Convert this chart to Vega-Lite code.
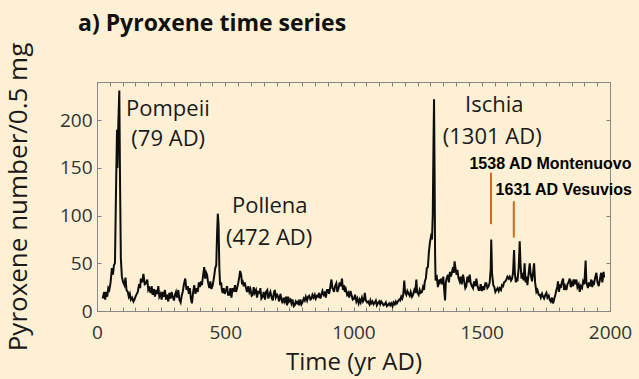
{
  "$schema": "https://vega.github.io/schema/vega-lite/v6.json",
  "width": 513,
  "height": 229,
  "autosize": {"type": "none"},
  "padding": {"left": 97, "top": 82, "right": 29, "bottom": 68},
  "background": "#fdf0d4",
  "config": {
    "view": {"stroke": "#8a8a8a", "strokeWidth": 1},
    "font": "Open Sans",
    "axis": {"domain": false, "grid": false, "tickColor": "#808080", "tickSize": -4, "tickWidth": 1, "labelFont": "Open Sans", "labelFontSize": 19, "labelColor": "#333333", "titleFont": "Open Sans", "titleFontWeight": "normal", "titleColor": "#1a1a1a"}
  },
  "title": {"text": "a) Pyroxene time series", "anchor": "start", "frame": "group", "dx": -19, "offset": 6, "fontSize": 23, "fontWeight": "bold", "color": "#111111", "font": "Open Sans"},
  "datasets": {
    "series": [
      {"t":22,"v":13},{"t":28,"v":20},{"t":32,"v":12},{"t":35,"v":20},{"t":40,"v":15},{"t":44,"v":24},{"t":48,"v":22},{"t":53,"v":30},{"t":58,"v":45},{"t":62,"v":38},{"t":66,"v":48},{"t":70,"v":50},{"t":74,"v":124},{"t":78,"v":190},{"t":80,"v":150},{"t":83,"v":195},{"t":87,"v":231},{"t":90,"v":130},{"t":93,"v":55},{"t":97,"v":36},
      {"t":102,"v":30},{"t":107,"v":27},{"t":111,"v":35},{"t":115,"v":22},{"t":120,"v":20},{"t":124,"v":15},{"t":128,"v":18},{"t":132,"v":12},{"t":137,"v":14},{"t":142,"v":10},{"t":146,"v":12},{"t":150,"v":15},{"t":155,"v":18},{"t":159,"v":20},{"t":164,"v":28},{"t":168,"v":24},{"t":171,"v":34},{"t":176,"v":30},{"t":181,"v":39},{"t":186,"v":28},{"t":191,"v":29},{"t":196,"v":33},
      {"t":200,"v":22},{"t":204,"v":24},{"t":209,"v":19},{"t":213,"v":26},{"t":217,"v":17},{"t":222,"v":23},{"t":226,"v":15},{"t":230,"v":22},{"t":235,"v":18},{"t":239,"v":26},{"t":243,"v":15},{"t":248,"v":18},{"t":252,"v":12},{"t":256,"v":20},{"t":260,"v":15},{"t":265,"v":22},{"t":269,"v":12},{"t":273,"v":17},{"t":278,"v":10},{"t":282,"v":19},{"t":287,"v":13},{"t":291,"v":20},{"t":295,"v":15},
      {"t":300,"v":11},{"t":304,"v":17},{"t":308,"v":20},{"t":312,"v":14},{"t":317,"v":22},{"t":321,"v":12},{"t":326,"v":9},{"t":330,"v":16},{"t":334,"v":20},{"t":339,"v":28},{"t":344,"v":34},{"t":349,"v":22},{"t":354,"v":26},{"t":358,"v":18},{"t":362,"v":24},{"t":366,"v":13},{"t":370,"v":8},{"t":375,"v":20},{"t":379,"v":27},{"t":384,"v":18},{"t":388,"v":24},{"t":393,"v":20},{"t":397,"v":30},
      {"t":401,"v":25},{"t":405,"v":31},{"t":409,"v":27},{"t":413,"v":36},{"t":418,"v":46},{"t":422,"v":34},{"t":426,"v":40},{"t":429,"v":38},{"t":433,"v":30},{"t":438,"v":24},{"t":442,"v":31},{"t":446,"v":23},{"t":451,"v":27},{"t":456,"v":35},{"t":461,"v":45},{"t":465,"v":48},{"t":468,"v":80},{"t":471,"v":102},{"t":474,"v":90},{"t":477,"v":45},{"t":480,"v":27},{"t":484,"v":30},{"t":487,"v":22},{"t":490,"v":19},{"t":494,"v":24},{"t":498,"v":18},
      {"t":503,"v":22},{"t":507,"v":26},{"t":511,"v":17},{"t":516,"v":17},{"t":520,"v":24},{"t":524,"v":14},{"t":529,"v":24},{"t":533,"v":20},{"t":538,"v":27},{"t":542,"v":20},{"t":547,"v":25},{"t":551,"v":30},{"t":555,"v":36},{"t":558,"v":42},{"t":562,"v":38},{"t":565,"v":30},{"t":568,"v":31},{"t":572,"v":26},{"t":576,"v":30},{"t":581,"v":24},{"t":585,"v":20},{"t":590,"v":26},{"t":594,"v":20},{"t":598,"v":23},
      {"t":603,"v":16},{"t":607,"v":17},{"t":611,"v":25},{"t":615,"v":19},{"t":620,"v":22},{"t":624,"v":14},{"t":628,"v":20},{"t":633,"v":19},{"t":637,"v":24},{"t":641,"v":13},{"t":646,"v":15},{"t":650,"v":20},{"t":655,"v":12},{"t":659,"v":20},{"t":664,"v":22},{"t":668,"v":13},{"t":672,"v":17},{"t":676,"v":20},{"t":680,"v":15},{"t":685,"v":11},{"t":689,"v":18},{"t":693,"v":22},{"t":697,"v":14},
      {"t":702,"v":17},{"t":706,"v":15},{"t":710,"v":10},{"t":715,"v":18},{"t":719,"v":13},{"t":723,"v":8},{"t":728,"v":14},{"t":732,"v":10},{"t":737,"v":15},{"t":741,"v":6},{"t":745,"v":15},{"t":749,"v":10},{"t":754,"v":12},{"t":758,"v":8},{"t":762,"v":12},{"t":767,"v":5},{"t":771,"v":6},{"t":775,"v":10},{"t":780,"v":8},{"t":784,"v":10},{"t":788,"v":6},{"t":793,"v":12},{"t":797,"v":7},
      {"t":801,"v":9},{"t":806,"v":13},{"t":810,"v":11},{"t":814,"v":15},{"t":819,"v":11},{"t":823,"v":15},{"t":827,"v":16},{"t":832,"v":12},{"t":836,"v":13},{"t":840,"v":17},{"t":845,"v":14},{"t":849,"v":17},{"t":853,"v":13},{"t":858,"v":16},{"t":862,"v":15},{"t":866,"v":19},{"t":871,"v":13},{"t":875,"v":17},{"t":879,"v":21},{"t":884,"v":17},{"t":888,"v":19},{"t":892,"v":14},{"t":897,"v":22},
      {"t":901,"v":22},{"t":905,"v":18},{"t":910,"v":26},{"t":914,"v":33},{"t":918,"v":24},{"t":922,"v":22},{"t":924,"v":20},{"t":928,"v":26},{"t":933,"v":29},{"t":937,"v":20},{"t":942,"v":24},{"t":946,"v":30},{"t":951,"v":26},{"t":955,"v":34},{"t":959,"v":22},{"t":963,"v":27},{"t":966,"v":20},{"t":970,"v":23},{"t":975,"v":17},{"t":979,"v":19},{"t":983,"v":14},{"t":988,"v":21},{"t":992,"v":17},{"t":997,"v":12},
      {"t":1002,"v":13},{"t":1006,"v":17},{"t":1011,"v":10},{"t":1015,"v":13},{"t":1020,"v":8},{"t":1024,"v":12},{"t":1028,"v":9},{"t":1033,"v":14},{"t":1037,"v":10},{"t":1041,"v":12},{"t":1044,"v":19},{"t":1048,"v":11},{"t":1053,"v":9},{"t":1057,"v":10},{"t":1062,"v":7},{"t":1066,"v":11},{"t":1069,"v":8},{"t":1074,"v":10},{"t":1078,"v":7},{"t":1083,"v":9},{"t":1087,"v":11},{"t":1091,"v":6},{"t":1095,"v":8},
      {"t":1100,"v":10},{"t":1104,"v":7},{"t":1108,"v":10},{"t":1113,"v":8},{"t":1117,"v":6},{"t":1122,"v":7},{"t":1126,"v":9},{"t":1130,"v":5},{"t":1134,"v":6},{"t":1139,"v":8},{"t":1143,"v":6},{"t":1147,"v":8},{"t":1152,"v":5},{"t":1156,"v":9},{"t":1161,"v":7},{"t":1165,"v":10},{"t":1169,"v":8},{"t":1173,"v":10},{"t":1178,"v":12},{"t":1182,"v":11},{"t":1186,"v":15},{"t":1190,"v":13},{"t":1194,"v":17},{"t":1198,"v":32},
      {"t":1201,"v":20},{"t":1206,"v":17},{"t":1210,"v":21},{"t":1215,"v":18},{"t":1219,"v":16},{"t":1223,"v":20},{"t":1228,"v":15},{"t":1232,"v":17},{"t":1237,"v":22},{"t":1241,"v":19},{"t":1245,"v":33},{"t":1248,"v":20},{"t":1254,"v":17},{"t":1258,"v":22},{"t":1262,"v":19},{"t":1267,"v":20},{"t":1271,"v":25},{"t":1275,"v":22},{"t":1278,"v":31},{"t":1282,"v":34},{"t":1286,"v":45},{"t":1290,"v":46},{"t":1294,"v":62},{"t":1298,"v":72},
      {"t":1302,"v":78},{"t":1306,"v":75},{"t":1309,"v":100},{"t":1312,"v":180},{"t":1314,"v":222},{"t":1316,"v":150},{"t":1318,"v":60},{"t":1320,"v":32},{"t":1324,"v":38},{"t":1329,"v":25},{"t":1333,"v":33},{"t":1337,"v":30},{"t":1342,"v":34},{"t":1346,"v":28},{"t":1350,"v":36},{"t":1353,"v":24},{"t":1357,"v":11},{"t":1360,"v":30},{"t":1364,"v":35},{"t":1368,"v":38},{"t":1372,"v":30},{"t":1376,"v":41},{"t":1380,"v":36},{"t":1384,"v":41},{"t":1388,"v":46},{"t":1391,"v":40},{"t":1394,"v":52},{"t":1398,"v":44},
      {"t":1402,"v":38},{"t":1405,"v":43},{"t":1409,"v":35},{"t":1414,"v":31},{"t":1418,"v":36},{"t":1422,"v":28},{"t":1427,"v":38},{"t":1431,"v":32},{"t":1436,"v":24},{"t":1440,"v":26},{"t":1444,"v":36},{"t":1449,"v":30},{"t":1453,"v":38},{"t":1457,"v":29},{"t":1462,"v":26},{"t":1466,"v":24},{"t":1470,"v":31},{"t":1475,"v":26},{"t":1479,"v":34},{"t":1483,"v":27},{"t":1488,"v":22},{"t":1492,"v":22},{"t":1496,"v":28},
      {"t":1501,"v":21},{"t":1505,"v":26},{"t":1509,"v":22},{"t":1514,"v":29},{"t":1518,"v":29},{"t":1522,"v":24},{"t":1527,"v":26},{"t":1531,"v":30},{"t":1535,"v":44},{"t":1537,"v":75},{"t":1540,"v":40},{"t":1545,"v":27},{"t":1549,"v":25},{"t":1553,"v":20},{"t":1557,"v":22},{"t":1562,"v":24},{"t":1566,"v":21},{"t":1570,"v":24},{"t":1575,"v":22},{"t":1579,"v":27},{"t":1583,"v":26},{"t":1587,"v":30},{"t":1592,"v":31},{"t":1596,"v":33},
      {"t":1600,"v":36},{"t":1605,"v":34},{"t":1609,"v":36},{"t":1614,"v":32},{"t":1618,"v":34},{"t":1622,"v":40},{"t":1626,"v":64},{"t":1629,"v":40},{"t":1633,"v":30},{"t":1637,"v":35},{"t":1639,"v":31},{"t":1644,"v":45},{"t":1648,"v":73},{"t":1651,"v":50},{"t":1655,"v":34},{"t":1659,"v":40},{"t":1663,"v":32},{"t":1667,"v":50},{"t":1671,"v":30},{"t":1675,"v":36},{"t":1678,"v":27},{"t":1683,"v":40},{"t":1687,"v":50},{"t":1691,"v":38},{"t":1696,"v":31},
      {"t":1700,"v":40},{"t":1704,"v":50},{"t":1708,"v":30},{"t":1713,"v":20},{"t":1717,"v":22},{"t":1722,"v":17},{"t":1726,"v":17},{"t":1730,"v":14},{"t":1735,"v":18},{"t":1739,"v":15},{"t":1743,"v":13},{"t":1748,"v":17},{"t":1752,"v":19},{"t":1756,"v":14},{"t":1761,"v":16},{"t":1765,"v":12},{"t":1769,"v":10},{"t":1774,"v":14},{"t":1778,"v":8},{"t":1782,"v":12},{"t":1787,"v":17},{"t":1791,"v":22},{"t":1795,"v":26},{"t":1797,"v":31},
      {"t":1801,"v":20},{"t":1805,"v":28},{"t":1808,"v":24},{"t":1812,"v":30},{"t":1817,"v":34},{"t":1821,"v":22},{"t":1825,"v":26},{"t":1830,"v":22},{"t":1834,"v":28},{"t":1838,"v":30},{"t":1843,"v":34},{"t":1847,"v":25},{"t":1852,"v":30},{"t":1856,"v":26},{"t":1860,"v":33},{"t":1865,"v":28},{"t":1869,"v":33},{"t":1873,"v":25},{"t":1878,"v":28},{"t":1882,"v":20},{"t":1886,"v":26},{"t":1891,"v":24},{"t":1895,"v":31},
      {"t":1900,"v":28},{"t":1905,"v":53},{"t":1908,"v":30},{"t":1914,"v":24},{"t":1918,"v":30},{"t":1922,"v":26},{"t":1927,"v":33},{"t":1931,"v":25},{"t":1935,"v":30},{"t":1938,"v":29},{"t":1942,"v":35},{"t":1947,"v":40},{"t":1951,"v":30},{"t":1956,"v":26},{"t":1960,"v":32},{"t":1964,"v":38},{"t":1966,"v":40},{"t":1970,"v":30},{"t":1975,"v":41},{"t":1977,"v":35}
    ],
    "events": [
      {"t": 1536, "v1": 91, "v2": 145},
      {"t": 1625, "v1": 77, "v2": 115}
    ],
    "labels": [
      {"t": 113, "v": 212, "text": "Pompeii"},
      {"t": 134, "v": 180, "text": "(79 AD)"},
      {"t": 526, "v": 110, "text": "Pollena"},
      {"t": 503, "v": 77, "text": "(472 AD)"},
      {"t": 1435, "v": 216, "text": "Ischia"},
      {"t": 1348, "v": 182, "text": "(1301 AD)"}
    ],
    "eventLabels": [
      {"t": 1452, "v": 154, "text": "1538 AD Montenuovo"},
      {"t": 1554, "v": 127, "text": "1631 AD Vesuvios"}
    ]
  },
  "layer": [
    {
      "data": {"name": "series"},
      "mark": {"type": "line", "color": "#0d0d0d", "strokeWidth": 2, "strokeJoin": "miter"},
      "encoding": {
        "x": {"field": "t", "type": "quantitative", "scale": {"domain": [0, 2000], "nice": false, "zero": false},
              "axis": {"orient": "bottom", "values": [0,50,100,150,200,250,300,350,400,450,500,550,600,650,700,750,800,850,900,950,1000,1050,1100,1150,1200,1250,1300,1350,1400,1450,1500,1550,1600,1650,1700,1750,1800,1850,1900,1950,2000],
                       "labelExpr": "datum.value % 500 === 0 ? datum.label : ''", "format": "d", "title": "Time (yr AD)", "titleFontSize": 24, "labelPadding": 16, "titlePadding": 8, "labelFlush": false, "labelOverlap": false}},
        "y": {"field": "v", "type": "quantitative", "scale": {"domain": [0, 240], "nice": false},
              "axis": {"orient": "left", "values": [0,50,100,150,200], "title": "Pyroxene number/0.5 mg", "titleFontSize": 26, "labelPadding": 9, "titlePadding": 28, "labelFlush": false}}
      }
    },
    {
      "data": {"name": "events"},
      "mark": {"type": "rule", "color": "#d2691e", "strokeWidth": 2},
      "encoding": {
        "x": {"field": "t", "type": "quantitative", "axis": {"orient": "top", "values": [0,50,100,150,200,250,300,350,400,450,500,550,600,650,700,750,800,850,900,950,1000,1050,1100,1150,1200,1250,1300,1350,1400,1450,1500,1550,1600,1650,1700,1750,1800,1850,1900,1950,2000], "labels": false, "title": null}},
        "y": {"field": "v1", "type": "quantitative", "axis": {"orient": "right", "values": [0,50,100,150,200], "labels": false, "title": null}},
        "y2": {"field": "v2"}
      }
    },
    {
      "data": {"name": "labels"},
      "mark": {"type": "text", "align": "left", "baseline": "middle", "font": "Open Sans", "fontSize": 22, "color": "#1a1a1a"},
      "encoding": {
        "x": {"field": "t", "type": "quantitative", "axis": null},
        "y": {"field": "v", "type": "quantitative", "axis": null},
        "text": {"field": "text"}
      }
    },
    {
      "data": {"name": "eventLabels"},
      "mark": {"type": "text", "align": "left", "baseline": "middle", "font": "Liberation Sans", "fontWeight": "bold", "fontSize": 16, "color": "#000000"},
      "encoding": {
        "x": {"field": "t", "type": "quantitative", "axis": null},
        "y": {"field": "v", "type": "quantitative", "axis": null},
        "text": {"field": "text"}
      }
    }
  ],
  "resolve": {"axis": {"x": "independent", "y": "independent"}}
}
